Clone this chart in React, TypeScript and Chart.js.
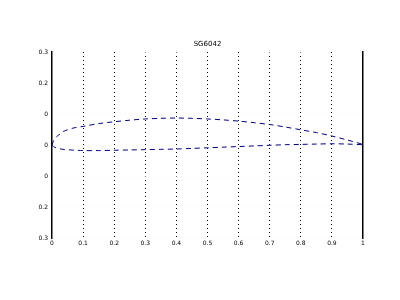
import React, { useEffect, useRef } from "react";
import { Chart, registerables } from "chart.js";

Chart.register(...registerables);

const titleText = "SG6042";

const upperX = [0, 0.005, 0.015, 0.025, 0.035, 0.05, 0.07, 0.1, 0.15, 0.2, 0.25, 0.3, 0.35, 0.4, 0.45, 0.5, 0.55, 0.6, 0.65, 0.7, 0.75, 0.8, 0.85, 0.9, 0.95, 1];
const upperY = [0, 0.014, 0.027, 0.035, 0.043, 0.049, 0.055, 0.06, 0.069, 0.075, 0.08, 0.084, 0.086, 0.087, 0.086, 0.084, 0.081, 0.077, 0.072, 0.066, 0.058, 0.049, 0.04, 0.029, 0.016, 0.002];

const lowerX = [0, 0.005, 0.015, 0.035, 0.06, 0.1, 0.15, 0.2, 0.25, 0.3, 0.35, 0.4, 0.45, 0.5, 0.55, 0.6, 0.65, 0.7, 0.75, 0.8, 0.85, 0.9, 0.95, 1];
const lowerY = [0, -0.005, -0.01, -0.014, -0.016, -0.018, -0.018, -0.017, -0.016, -0.015, -0.014, -0.013, -0.011, -0.009, -0.007, -0.005, -0.003, -0.001, 0.001, 0.002, 0.003, 0.004, 0.003, 0.001];

const xTickValues = [0, 0.1, 0.2, 0.3, 0.4, 0.5, 0.6, 0.7, 0.8, 0.9, 1];
const xTickLabels = ["0", "0.1", "0.2", "0.3", "0.4", "0.5", "0.6", "0.7", "0.8", "0.9", "1"];
const yTickValues = [0.3, 0.2, 0.1, 0, -0.1, -0.2, -0.3];
const yTickLabels = ["0.3", "0.2", "0", "0", "0", "0.2", "0.3"];

const FONT = "DejaVu Sans";

export default function App() {
  const ref = useRef<HTMLCanvasElement | null>(null);

  useEffect(() => {
    document.body.style.margin = "0";
    const canvas = ref.current;
    if (!canvas) return;

    const titlePlugin = {
      id: "customTitle",
      afterDraw(chart: any) {
        const { ctx, chartArea } = chart;
        ctx.save();
        ctx.font = `7px "${FONT}"`;
        ctx.fillStyle = "#000";
        ctx.textAlign = "center";
        ctx.textBaseline = "alphabetic";
        ctx.fillText(titleText, (chartArea.left + chartArea.right) / 2, chartArea.top - 6);
        ctx.restore();
      },
    };

    const toPts = (xs: number[], ys: number[]) => xs.map((x, i) => ({ x, y: ys[i] }));

    const lineStyle = {
      showLine: true,
      borderColor: "#000080",
      borderWidth: 1,
      borderDash: [5, 4],
      pointRadius: 0,
      fill: false,
      tension: 0.3,
    };

    const chart = new Chart(canvas, {
      type: "scatter",
      data: {
        datasets: [
          { label: "upper", data: toPts(upperX, upperY), ...lineStyle },
          { label: "lower", data: toPts(lowerX, lowerY), ...lineStyle },
        ],
      },
      options: {
        animation: false,
        responsive: false,
        layout: { padding: { left: 24, right: 37, top: 52, bottom: 50 } },
        plugins: {
          legend: { display: false },
          title: { display: false },
          tooltip: { enabled: false },
        },
        scales: {
          x: {
            type: "linear",
            min: 0,
            max: 1,
            afterBuildTicks(scale: any) {
              scale.ticks = xTickValues.map((v) => ({ value: v }));
            },
            afterFit(scale: any) {
              scale.height = 12;
            },
            ticks: {
              padding: 2,
              color: "#000",
              font: { family: FONT, size: 6 },
              maxRotation: 0,
              autoSkip: false,
              callback: (v: any) => {
                const i = xTickValues.findIndex((t) => Math.abs(t - Number(v)) < 1e-9);
                return i >= 0 ? xTickLabels[i] : "";
              },
            },
            grid: {
              color: (c: any) => (c.tick && (c.tick.value === 0 || c.tick.value === 1) ? "rgba(0,0,0,0)" : "#000"),
              lineWidth: 1,
              drawTicks: false,
            },
            border: { display: false, dash: [1, 3] },
          },
          y: {
            type: "linear",
            min: -0.3,
            max: 0.3,
            afterBuildTicks(scale: any) {
              scale.ticks = yTickValues.map((v) => ({ value: v }));
            },
            afterFit(scale: any) {
              scale.width = 28;
            },
            ticks: {
              padding: 4,
              color: "#000",
              font: { family: FONT, size: 6 },
              autoSkip: false,
              callback: (v: any) => {
                const i = yTickValues.findIndex((t) => Math.abs(t - Number(v)) < 1e-9);
                return i >= 0 ? yTickLabels[i] : "";
              },
            },
            grid: {
              color: "#f4f4f4",
              lineWidth: 1,
              drawTicks: false,
            },
            border: { display: true, color: "#000", width: 1.5, dash: [1, 3] },
          },
          y2: {
            type: "linear",
            position: "right",
            min: -0.3,
            max: 0.3,
            afterFit(scale: any) {
              scale.width = 0;
            },
            ticks: { display: false },
            grid: { display: false, drawTicks: false },
            border: { display: true, color: "#000", width: 1.5 },
          },
        },
      },
      plugins: [titlePlugin],
    } as any);

    return () => chart.destroy();
  }, []);

  return <canvas ref={ref} width={400} height={300} style={{ display: "block" }} />;
}
